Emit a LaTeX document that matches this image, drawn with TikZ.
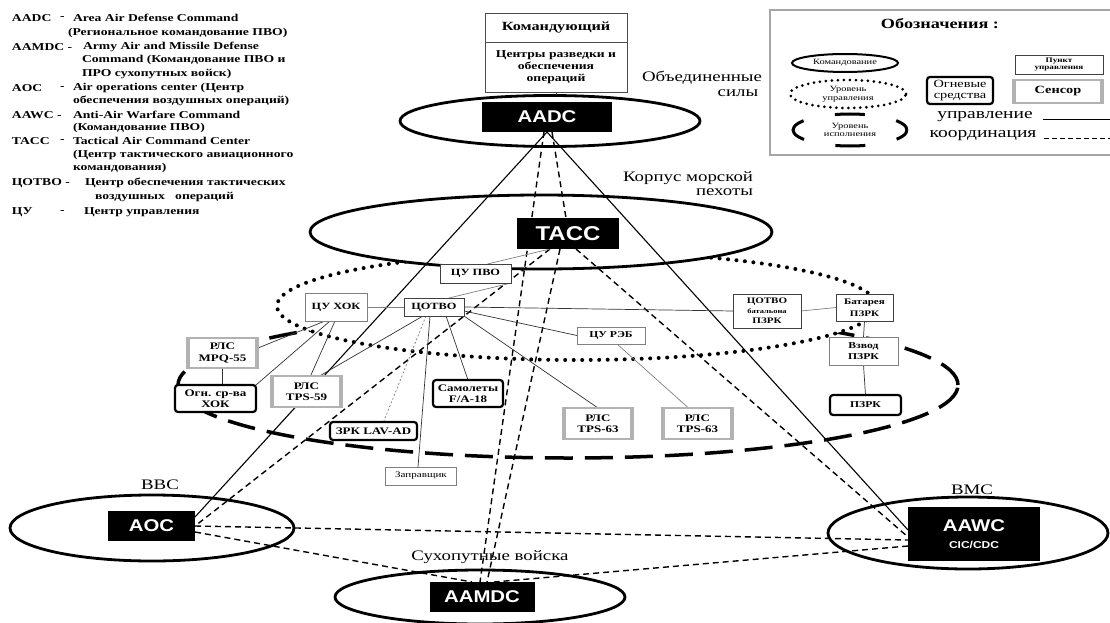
\documentclass[tikz,border=0pt]{standalone}
\usepackage{fontspec}
\setmainfont{Liberation Serif}
\newfontfamily\serifw[FakeStretch=1.3]{Liberation Serif}
\newfontfamily\sansw[FakeStretch=1.2]{Liberation Sans}
\usetikzlibrary{shapes.geometric,backgrounds}

\begin{document}
\begin{tikzpicture}[x=1pt,y=-1pt,
  every node/.style={inner sep=0pt, outer sep=0pt},
  cmdell/.style={ellipse, draw, fill=white, line width=2.8pt},
  cmdbox/.style={fill=black, text=white, font=\sansw\bfseries\fontsize{17}{18}\selectfont},
  pu/.style={draw=black!75, line width=0.9pt, fill=white, align=center,
             font=\serifw\bfseries\fontsize{9.5}{10.5}\selectfont},
  sensor/.style={draw=gray!60, line width=1.6pt, fill=white, align=center,
             font=\serifw\bfseries\fontsize{10}{11.5}\selectfont,
             path picture={
               \fill[gray!60] (path picture bounding box.north west) rectangle ([xshift=3pt]path picture bounding box.south west);
               \fill[gray!60] ([xshift=-3pt]path picture bounding box.north east) rectangle (path picture bounding box.south east);}},
  fire/.style={draw=black, line width=2.2pt, rounded corners=3pt, fill=white, align=center,
             font=\serifw\bfseries\fontsize{10}{11}\selectfont},
  ctrl/.style={line width=1.1pt},
  link/.style={line width=0.7pt, draw=black!80},
  glink/.style={line width=0.7pt, draw=gray},
  coord/.style={line width=1.4pt, dash pattern=on 6pt off 4pt},
  dotlvl/.style={line width=4pt, line cap=round, dash pattern=on 0pt off 8.5pt},
  dashlvl/.style={line width=3.5pt, dash pattern=on 28pt off 12pt},
  region/.style={font=\serifw\fontsize{14.5}{15}\selectfont},
  leg/.style={anchor=west, font=\serifw\bfseries\fontsize{10.5}{12}\selectfont},
  keytext/.style={align=center, font=\serifw\fontsize{8}{8.5}\selectfont},
]
\useasboundingbox (0,0) rectangle (1110,623);

% ---------- abbreviations ----------
\node[leg] (g1a) at (12,18) {AADC};
\node[leg] (g1b) at (60,18) {-};
\node[leg] (g1c) at (73,18) {Area Air Defense Command};
\node[leg] (g2) at (68,33) {(Региональное командование ПВО)};
\node[leg] (g3a) at (12,47) {AAMDC -};
\node[leg] (g3c) at (83,47) {Army Air and Missile Defense};
\node[leg] (g4) at (82,60) {Command (Командование ПВО и};
\node[leg] (g5) at (82,74) {ПРО сухопутных войск)};
\node[leg] (g6a) at (12,88) {AOC};
\node[leg] (g6b) at (60,88) {-};
\node[leg] (g6c) at (73,88) {Air operations center (Центр};
\node[leg] (g7) at (73,101) {обеспечения воздушных операций)};
\node[leg] (g8a) at (12,115) {AAWC -};
\node[leg] (g8c) at (73,115) {Anti-Air Warfare Command};
\node[leg] (g9) at (73,128) {(Командование ПВО)};
\node[leg] (g10a) at (12,141) {TACC};
\node[leg] (g10b) at (60,141) {-};
\node[leg] (g10c) at (73,141) {Tactical Air Command Center};
\node[leg] (g11) at (73,155) {(Центр тактического авиационного};
\node[leg] (g12) at (73,168) {командования)};
\node[leg] (g13a) at (12,183) {ЦОТВО -};
\node[leg] (g13c) at (85,183) {Центр обеспечения тактических};
\node[leg] (g14) at (95,197) {воздушных\ \ \ операций};
\node[leg] (g15a) at (12,212) {ЦУ};
\node[leg] (g15b) at (60,212) {-};
\node[leg] (g15c) at (84,212) {Центр управления};

% ---------- symbol key ----------
\node[draw=gray!70, line width=1.5pt, minimum width=345pt, minimum height=145pt] (legframe) at (942.5,82.5) {};
\node[font=\serifw\bfseries\fontsize{14}{16}\selectfont] (legtitle) at (940,24) {Обозначения :};
\node[ellipse, draw, line width=2pt, minimum width=106pt, minimum height=18pt, keytext] (lgcmd) at (845,63) {Командование};
\node[ellipse, draw, line width=3pt, line cap=round, dash pattern=on 0pt off 6pt,
      minimum width=116pt, minimum height=28pt, keytext] (lgctl) at (848,94) {Уровень\\управления};
\node[ellipse, draw, line width=3pt, dash pattern=on 30pt off 32pt, dash phase=15pt,
      minimum width=114pt, minimum height=32pt, keytext] (lgexe) at (850,130) {Уровень\\исполнения};
\node[fire, minimum width=66pt, minimum height=27pt,
      font=\serifw\fontsize{11}{11}\selectfont] (lgfire) at (960,90.5) {Огневые\\средства};
\node[pu, minimum width=88pt, minimum height=19pt,
      font=\serifw\bfseries\fontsize{7}{7}\selectfont] (lgpu) at (1059,64.5) {Пункт\\управления};
\node[sensor, minimum width=90pt, minimum height=23pt, font=\serifw\bfseries\fontsize{11}{12}\selectfont] (lgsens) at (1058,91.5) {Сенсор};
\node[font=\serifw\fontsize{15}{16}\selectfont] (lgctrl) at (985,117) {управление};
\node[font=\serifw\fontsize{15}{16}\selectfont] (lgcoord) at (983,136) {координация};
\draw[line width=0.8pt] ([xshift=10pt,yshift=-2pt]lgctrl.east) -- ([yshift=-2pt]lgctrl.east -| legframe.east);
\draw[line width=0.8pt, dash pattern=on 5pt off 3pt] ([xshift=8pt,yshift=-2pt]lgcoord.east) -- ([yshift=-2pt]lgcoord.east -| legframe.east);

% ---------- region labels ----------
\node[region] (lobj1) at (702,78) {Объединенные};
\node[region] (lobj2) at (738,93) {силы};
\node[region, anchor=east] (lmar1) at (753,178) {Корпус морской};
\node[region, anchor=east] (lmar2) at (753,192) {пехоты};
\node[region] (lvvs) at (160,485) {ВВС};
\node[region] (lvms) at (972,490) {ВМС};
\node[region] (lland) at (490,557) {Сухопутные войска};

% ---------- commander ----------
\node[pu, draw=black!70, line width=0.8pt, minimum width=142pt, minimum height=29pt,
      font=\serifw\bfseries\fontsize{12.5}{13}\selectfont] (cmdtop) at (556,27.5) {Командующий};
\node[pu, draw=black!70, line width=0.8pt, minimum width=142pt, minimum height=50pt,
      font=\serifw\bfseries\fontsize{10.5}{12}\selectfont] (cmdbot) at (556,67) {Центры разведки и\\обеспечения\\операций};

% ---------- command posts ----------
\node[cmdbox, minimum width=130pt, minimum height=30pt] (aadc) at (547,117) {AADC};
\node[cmdbox, font=\sansw\bfseries\fontsize{20}{21}\selectfont, minimum width=102pt, minimum height=31pt] (tacc) at (568,233.5) {TACC};
\node[cmdbox, minimum width=87pt, minimum height=30pt] (aoc) at (151.5,526) {AOC};
\node[cmdbox, minimum width=105pt, minimum height=30pt] (aamdc) at (482,597) {AAMDC};
\node[cmdbox, align=center, minimum width=132pt, minimum height=54pt] (aawc) at (974,534)
     {AAWC\\[-1pt]{\fontsize{10}{11}\selectfont CIC/CDC}};

% ---------- marine corps elements ----------
\node[pu, minimum width=71pt, minimum height=19pt] (cupvo) at (475.5,273.5) {ЦУ ПВО};
\node[pu, draw=gray, minimum width=62pt, minimum height=28pt] (cuhok) at (336,307) {ЦУ ХОК};
\node[pu, minimum width=60pt, minimum height=18pt] (cotvo) at (434,307) {ЦОТВО};
\node[pu, minimum width=68pt, minimum height=34pt, font=\serifw\bfseries\fontsize{8.5}{10}\selectfont] (cotvob) at (767,311)
     {ЦОТВО\\{\fontsize{6.5}{8}\selectfont батальона}\\ПЗРК};
\node[pu, minimum width=57pt, minimum height=27pt, font=\serifw\bfseries\fontsize{8.5}{12}\selectfont] (bat) at (864.5,307.5) {Батарея\\ПЗРК};
\node[pu, draw=gray, minimum width=69pt, minimum height=28pt, font=\serifw\bfseries\fontsize{9}{11}\selectfont] (vzvod) at (863.5,351) {Взвод\\ПЗРК};
\node[fire, minimum width=71pt, minimum height=20pt, font=\serifw\bfseries\fontsize{9}{10}\selectfont] (pzrk) at (865.5,405) {ПЗРК};
\node[pu, draw=gray, minimum width=68pt, minimum height=17pt, font=\serifw\bfseries\fontsize{9}{10}\selectfont] (cureb) at (611,335.5) {ЦУ РЭБ};
\node[sensor, minimum width=70pt, minimum height=31pt] (tps63a) at (598,423.5) {РЛС\\TPS-63};
\node[sensor, minimum width=71pt, minimum height=31pt] (tps63b) at (697.5,423.5) {РЛС\\TPS-63};
\node[fire, minimum width=70pt, minimum height=27pt] (fa18) at (468,393.5) {Самолеты\\F/A-18};
\node[fire, minimum width=87pt, minimum height=18pt] (lav) at (373.5,431) {ЗРК LAV-AD};
\node[pu, draw=gray, line width=0.7pt, minimum width=71pt, minimum height=18pt, font=\serifw\fontsize{8.5}{10}\selectfont] (zapr) at (421,476) {Заправщик};
\node[sensor, minimum width=71pt, minimum height=31pt] (tps59) at (306.5,391.5) {РЛС\\TPS-59};
\node[sensor, minimum width=71pt, minimum height=30pt] (mpq) at (222.5,353) {РЛС\\MPQ-55};
\node[fire, minimum width=81pt, minimum height=27pt] (ogn) at (215.5,398.5) {Огн. ср-ва\\ХОК};

% ---------- levels (stacked, white filled) and links, behind the boxes ----------
\begin{scope}[on background layer]
  % execution level, control level, marine corps command
  \draw[dashlvl, fill=white] (568,385) ellipse [x radius=390pt, y radius=73pt];
  \draw[dotlvl, fill=white] (577,306) ellipse [x radius=300pt, y radius=54pt];
  \node[cmdell, minimum width=462pt, minimum height=74pt] (taccell) at (541,232) {};
  \node[cmdell, minimum width=300pt, minimum height=51pt] (aadcell) at (550,121) {};
  \node[cmdell, minimum width=284pt, minimum height=66pt] (aocell) at (152,528) {};
  \node[cmdell, minimum width=290pt, minimum height=54pt] (aamdcell) at (480,597) {};
  \node[cmdell, minimum width=280pt, minimum height=72pt] (aawcell) at (968,533) {};

  % control
  \draw[ctrl] (aadc.south) -- ([yshift=-6pt]aoc.north east);
  \draw[ctrl] (aadc.south) -- ([yshift=4pt]aawc.west);
  \draw[link] (cmdbot.south) -- (cmdbot.south |- aadcell.north);

  % coordination
  \draw[coord] ([xshift=-3pt]aadc.south) -- ([xshift=-2pt]aamdc.north);
  \draw[coord] ([xshift=5pt]aadc.south) -- ([xshift=-2pt]tacc.north);
  \draw[coord] ([xshift=-8pt]tacc.south) -- ([xshift=5pt]aamdc.north);
  \draw[coord] ([xshift=-18pt]tacc.south) -- (aoc.east);
  \draw[coord] ([xshift=8pt]tacc.south) -- ([yshift=-3pt]aawc.west);
  \draw[coord] (aoc.east) -- ([yshift=-6pt]aawc.west);
  \draw[coord] ([yshift=-6pt]aoc.east) -- ([xshift=-10pt]aamdc.north);
  \draw[coord] ([yshift=-12pt]aawc.west) -- ([xshift=12pt]aamdc.north);

  % marine corps links
  \draw[glink] ([xshift=-18pt]tacc.south) -- ([xshift=12pt]cupvo.north);
  \draw[glink] (cupvo.south east) -- ([xshift=15pt]cotvo.north);
  \draw[glink] (cuhok.east) -- (cotvo.west);
  \draw[link] (cotvo.east) -- (cotvob.west);
  \draw[glink] (cotvob.east) -- (bat.west);
  \draw[link] (bat.south) -- (vzvod.north);
  \draw[link] (vzvod.south) -- (pzrk.north);
  \draw[link] ([yshift=-4pt]cotvo.east) -- (cureb.west);
  \draw[link] (cotvo.south east) -- (tps63a.north);
  \draw[glink] ([xshift=6pt]cureb.south) -- ([xshift=-9pt]tps63b.north);
  \draw[link] ([xshift=12pt]cotvo.south) -- (fa18.north);
  \draw[link] ([xshift=-4pt]cotvo.south) -- ([xshift=-3pt]zapr.north);
  \draw[glink, dash pattern=on 2pt off 2pt] ([xshift=-8pt]cotvo.south) -- ([xshift=10pt]lav.north);
  \draw[link] ([xshift=-11pt]cotvo.south) -- ([xshift=13pt]tps59.north);
  \draw[link] ([xshift=-11pt]cuhok.south) -- ([yshift=5pt]mpq.east);
  \draw[link] ([xshift=-6pt]cuhok.south) -- (ogn.north east);
  \draw[link] ([xshift=-1pt]cuhok.south) -- ([xshift=4pt]tps59.north);
  \draw[link] (mpq.south) -- (mpq.south |- ogn.north);
\end{scope}
\end{tikzpicture}
\end{document}
